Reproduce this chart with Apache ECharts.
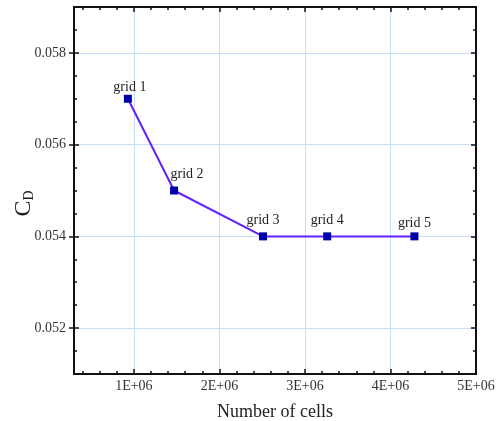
<!DOCTYPE html>
<html>
<head>
<meta charset="utf-8">
<script src="https://cdn.jsdelivr.net/npm/echarts@6/dist/echarts.min.js"></script>
<style>
  html, body { margin: 0; padding: 0; background: #fff; }
  #chart { width: 500px; height: 421px; }
</style>
</head>
<body>
<div id="chart"></div>
<script>
  // grid study: drag coefficient vs mesh size
  const gridNames = ['grid 1', 'grid 2', 'grid 3', 'grid 4', 'grid 5'];
  const cells = [930000, 1470000, 2510000, 3260000, 4280000];
  const cd = [0.057, 0.055, 0.054, 0.054, 0.054];

  const xMajor = [1000000, 2000000, 3000000, 4000000, 5000000];
  const xMinor = [400000, 600000, 800000, 1200000, 1400000, 1600000, 1800000,
    2200000, 2400000, 2600000, 2800000, 3200000, 3400000, 3600000, 3800000,
    4200000, 4400000, 4600000, 4800000];
  const yMajor = [0.052, 0.054, 0.056, 0.058];
  const yMinor = [0.0515, 0.0525, 0.053, 0.0535, 0.0545, 0.055, 0.0555,
    0.0565, 0.057, 0.0575, 0.0585];

  const font = '"Liberation Serif", "Times New Roman", serif';
  const xMin = 300000, xMax = 5000000;
  const yMin = 0.051, yMax = 0.059;

  // labels that don't sit straight above their point in the original
  const labelNudge = { 0: [2, 5], 1: [13, 0], 4: [0, 3] };

  let chart = echarts.init(document.getElementById('chart'));

  // extra axes only carry tick marks (minor ticks, top/right mirror)
  function tickAxis(pos, vals, len, extra) {
    return Object.assign({
      type: 'value',
      position: pos,
      min: pos === 'top' || pos === 'bottom' ? xMin : yMin,
      max: pos === 'top' || pos === 'bottom' ? xMax : yMax,
      axisLine: { show: true, onZero: false, lineStyle: { color: '#111', width: 2 } },
      axisTick: { show: true, inside: true, length: len, customValues: vals,
        lineStyle: { color: '#111', width: 1.5 } },
      axisLabel: { show: false },
      splitLine: { show: false }
    }, extra || {});
  }

  let option = {
    animation: false,
    grid: { left: 74, right: 24, top: 7, bottom: 47, containLabel: false, outerBoundsMode: 'none' },
    xAxis: [
      {
        type: 'value',
        position: 'bottom',
        min: xMin,
        max: xMax,
        name: 'Number of cells',
        nameLocation: 'middle',
        nameGap: 29,
        nameMoveOverlap: false,
        nameTextStyle: { fontFamily: font, fontSize: 18, color: '#222', verticalAlign: 'top' },
        axisLine: { onZero: false, lineStyle: { color: '#111', width: 2 } },
        axisTick: { inside: true, length: 5, customValues: xMajor,
          lineStyle: { color: '#111', width: 1.5 } },
        axisLabel: {
          customValues: xMajor,
          margin: 5,
          fontFamily: font,
          fontSize: 14,
          color: '#333',
          formatter: function (v) { return (v / 1000000) + 'E+06'; }
        },
        splitLine: { show: true, lineStyle: { color: '#c6defa', width: 1 } }
      },
      tickAxis('bottom', xMinor, 3),
      tickAxis('top', xMajor, 5),
      tickAxis('top', xMinor, 3)
    ],
    yAxis: [
      {
        type: 'value',
        position: 'left',
        min: yMin,
        max: yMax,
        name: '{c|C}{d|D}',
        nameLocation: 'middle',
        nameGap: 38,
        nameRotate: 90,
        nameMoveOverlap: false,
        nameTextStyle: {
          fontFamily: font,
          color: '#222',
          padding: [0, 26, 0, 0],
          rich: {
            c: { fontFamily: font, fontSize: 24, color: '#222', verticalAlign: 'bottom', lineHeight: 26 },
            d: { fontFamily: font, fontSize: 14, color: '#222', verticalAlign: 'bottom', lineHeight: 20 }
          }
        },
        axisLine: { onZero: false, lineStyle: { color: '#111', width: 2 } },
        axisTick: { inside: true, length: 5, customValues: yMajor,
          lineStyle: { color: '#111', width: 1.5 } },
        axisLabel: {
          customValues: yMajor,
          margin: 8,
          fontFamily: font,
          fontSize: 14,
          color: '#333',
          formatter: function (v) { return v.toFixed(3); }
        },
        splitLine: { show: true, lineStyle: { color: '#c6defa', width: 1 } }
      },
      tickAxis('left', yMajor, 5, { axisTick: { show: true, inside: false, length: 5,
        customValues: yMajor, lineStyle: { color: '#111', width: 1.5 } } }),
      tickAxis('left', yMinor, 3),
      tickAxis('right', yMajor, 5),
      tickAxis('right', yMinor, 3)
    ],
    series: [
      {
        type: 'line',
        xAxisIndex: 0,
        yAxisIndex: 0,
        symbol: 'rect',
        symbolSize: 8,
        lineStyle: { color: '#6420ff', width: 2 },
        itemStyle: { color: '#0000aa' },
        label: {
          show: true,
          position: 'top',
          distance: 5,
          fontFamily: font,
          fontSize: 14,
          color: '#222',
          formatter: function (p) { return gridNames[p.dataIndex]; }
        },
        data: cells.map(function (x, i) {
          let item = { value: [x, cd[i]] };
          if (labelNudge[i]) item.label = { offset: labelNudge[i] };
          return item;
        })
      }
    ]
  };
  chart.setOption(option);
</script>
</body>
</html>
